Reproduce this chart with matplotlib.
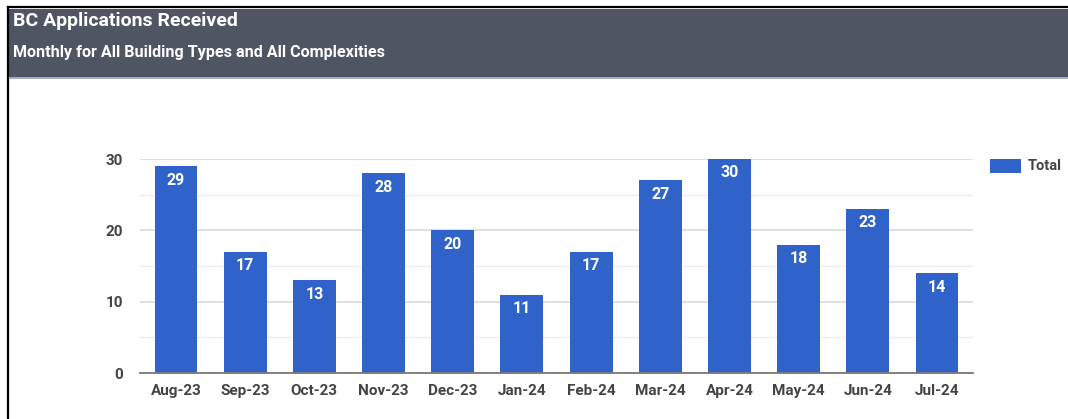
import matplotlib.pyplot as plt
import matplotlib.patches as mpatches
from matplotlib.lines import Line2D

months = ["Aug-23", "Sep-23", "Oct-23", "Nov-23", "Dec-23", "Jan-24",
          "Feb-24", "Mar-24", "Apr-24", "May-24", "Jun-24", "Jul-24"]
totals = [29, 17, 13, 28, 20, 11, 17, 27, 30, 18, 23, 14]
yticks = [0, 10, 20, 30]

W, H = 1068, 419
bar_color = "#3063c9"
plt.rcParams['font.family'] = ['Roboto', 'DejaVu Sans']

fig = plt.figure(figsize=(W / 100, H / 100), dpi=100)
fig.patch.set_facecolor("white")

# header band
fig.add_artist(mpatches.Rectangle((9 / W, 1 - 77 / H), 1, 68 / H,
                                  transform=fig.transFigure, color="#4f5563", lw=0))
fig.add_artist(mpatches.Rectangle((9 / W, 1 - 79 / H), 1, 2 / H,
                                  transform=fig.transFigure, color="#a9adb5", lw=0))
# black frame at left and top
fig.add_artist(Line2D([8 / W, 8 / W], [0, 1 - 7 / H], transform=fig.transFigure,
                      color="black", lw=1.6))
fig.add_artist(Line2D([8 / W, 1], [1 - 7 / H, 1 - 7 / H], transform=fig.transFigure,
                      color="black", lw=1.6))

fig.text(13 / W, 1 - 21 / H, "BC Applications Received", color="white",
         fontsize=14, fontweight="bold", va="center", ha="left")
fig.text(13 / W, 1 - 52 / H, "Monthly for All Building Types and All Complexities",
         color="white", fontsize=11.6, fontweight="bold", va="center", ha="left")

ax = fig.add_axes([140 / W, 1 - 373 / H, 833 / W, 214 / H])
x = range(len(months))
bars = ax.bar(x, totals, width=0.62, color=bar_color, zorder=3, label="Total")
for xi, v in zip(x, totals):
    ax.text(xi, v - 0.9, str(v), ha="center", va="top", color="white",
            fontsize=11.5, fontweight="bold", zorder=4)

ax.set_xlim(-0.52, 11.52)
ax.set_ylim(0, 30)
ax.set_yticks(yticks)
ax.set_yticks([5, 15, 25], minor=True)
ax.grid(axis="y", which="major", color="#d9d9d9", lw=1.2, zorder=0)
ax.grid(axis="y", which="minor", color="#ededed", lw=1.0, zorder=0)
ax.set_xticks(list(x))
ax.set_xticklabels(months)
ax.tick_params(axis="both", which="both", length=0, labelsize=11, labelcolor="#444444")
ax.tick_params(axis="x", pad=8)
ax.tick_params(axis="y", pad=12)
for lbl in ax.get_xticklabels() + ax.get_yticklabels():
    lbl.set_fontweight("bold")
for s in ["top", "right", "left"]:
    ax.spines[s].set_visible(False)
ax.spines["bottom"].set_color("#777777")
ax.spines["bottom"].set_linewidth(1.3)
ax.spines["bottom"].set_zorder(5)

fig.legend(handles=[bars], labels=["Total"], loc="center left",
           bbox_to_anchor=(990 / W, 1 - 166 / H), frameon=False,
           borderpad=0, borderaxespad=0,
           handlelength=2.1, handleheight=1.1, handletextpad=0.5,
           prop={"weight": "bold", "size": 10.5}, labelcolor="#444444")

fig.savefig("out.png", dpi=100)
